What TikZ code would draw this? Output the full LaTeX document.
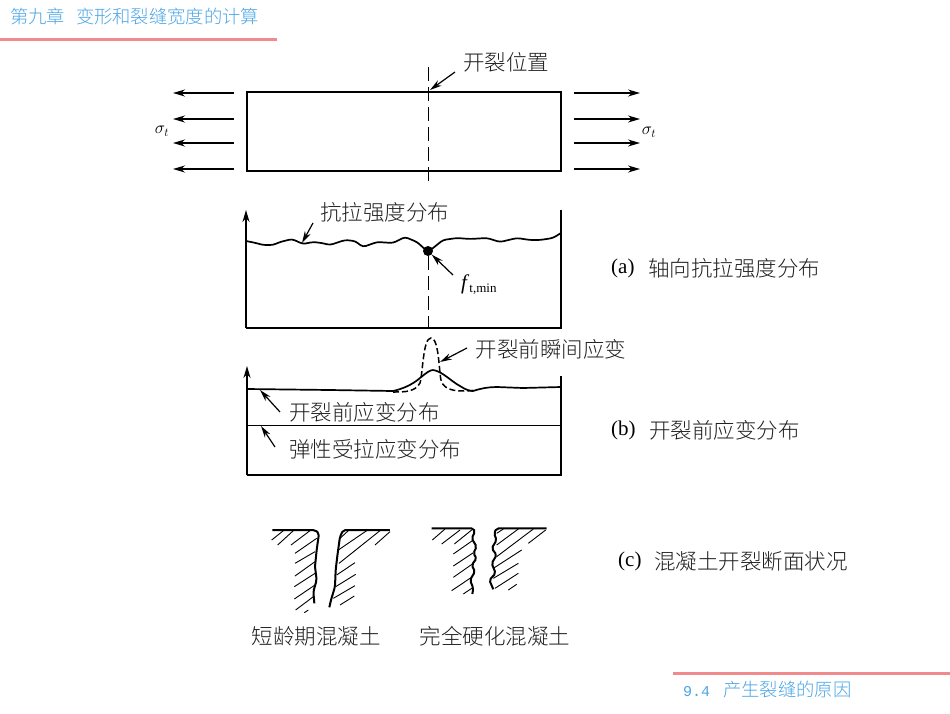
\documentclass[tikz,border=0pt]{standalone}
\usepackage{fontspec}
\setmainfont{Liberation Serif}
\newfontfamily\cjk{Noto Sans CJK SC}[UprightFont={* Light}]
\newfontfamily\monof{Liberation Mono}
\usetikzlibrary{arrows.meta}
\definecolor{headblue}{HTML}{4AA5E4}
\definecolor{headred}{HTML}{F08A8C}
\tikzset{
  lbl/.style={inner sep=0pt,font=\fontsize{21.5}{24}\selectfont\cjk,text=black!88},
  captext/.style={inner sep=0pt,font=\fontsize{21.5}{24}\selectfont\cjk,text=black!88,anchor=west},
  tagl/.style={inner sep=0pt,font=\fontsize{21}{24}\selectfont,anchor=west},
  headl/.style={inner sep=0pt,font=\fontsize{18.3}{20}\selectfont\cjk,text=headblue,anchor=west},
  redbar/.style={draw=headred,line width=3pt},
  beamline/.style={draw=black,line width=1.7pt},
  wavy/.style={draw=black,line width=1.7pt,line join=round,rounded corners=3pt},
  cen/.style={draw=black,line width=1pt,dash pattern=on 14pt off 6pt},
  force/.style={draw=black,line width=1.5pt,-{Stealth[length=12pt,width=7pt]}},
  leader/.style={draw=black,line width=1.2pt,-{Stealth[length=12pt,width=6.5pt]}},
  axisl/.style={draw=black,line width=1.7pt,-{Stealth[length=12pt,width=7pt]}},
  hatchl/.style={draw=black,line width=.9pt},
  crackl/.style={draw=black,line width=2pt,line join=round,rounded corners=2pt},
  sig/.style={inner sep=0pt,font=\fontsize{18}{20}\selectfont},
}
\begin{document}
\begin{tikzpicture}[x=1pt,y=-1pt]
\useasboundingbox (0,0) rectangle (950,713);
% header / footer
\node[headl] (title) at (10,17) {第九章\hspace{.6em}变形和裂缝宽度的计算};
\coordinate (ta) at (0,39); \coordinate (tb) at (277,39);
\draw[redbar] (ta) -- (tb);
\coordinate (fa) at (673,673); \coordinate (fb) at (950,673);
\draw[redbar] (fa) -- (fb);
\node[headl] (foot) at (683,690) {{\monof\fontsize{15}{18}\selectfont 9.4}\hspace{.72em}产生裂缝的原因};

% top beam
\node[draw=black,line width=1.7pt,minimum width=314pt,minimum height=79pt,inner sep=0pt] (beam) at (404,131.5) {};
\coordinate (ct) at (428,67); \coordinate (cb) at (428,182);
\draw[cen] (ct) -- (cb);
\node[lbl] (crackpos) at (506,62) {开裂位置};
\coordinate (cs) at (455,72); \coordinate (ce) at (430,90);
\draw[leader] (cs) -- (ce);
\foreach \y [count=\i] in {93,119,143,169}{
  \coordinate (la\i) at (234,\y); \coordinate (lb\i) at (173,\y);
  \draw[force] (la\i) -- (lb\i);
  \coordinate (ra\i) at (574,\y); \coordinate (rb\i) at (640,\y);
  \draw[force] (ra\i) -- (rb\i);
}
\node[sig] (sl) at (162,131) {$\sigma_t$};
\node[sig] (sr) at (649,132) {$\sigma_t$};

% (a)
\coordinate (a0) at (246,328); \coordinate (a1) at (246,210);
\coordinate (a2) at (561,328); \coordinate (a3) at (561,210);
\draw[axisl] (a0) -- (a1);
\draw[beamline] (a0) -- (a2) -- (a3);
\draw[wavy] (246,241) -- (256,243) -- (263,245) -- (273,245) -- (280,242) -- (292,239) -- (303,244) -- (313,242) -- (322,243) -- (330,245) -- (345,240) -- (355,241) -- (363,247) -- (377,242) -- (393,243) -- (405,237) -- (417,242) -- (428,252) -- (443,240) -- (457,238) -- (470,239) -- (487,238) -- (500,242) -- (517,238) -- (530,240) -- (540,240) -- (553,238) -- (561,233);
\node[circle,fill=black,inner sep=0pt,minimum size=10pt] (minpt) at (428,251) {};
\coordinate (dc) at (428,328);
\draw[cen] (minpt) -- (dc);
\node[lbl] (strength) at (384.5,212) {抗拉强度分布};
\coordinate (ss) at (313,223); \coordinate (se) at (302,243);
\draw[leader] (ss) -- (se);
\node[inner sep=0pt,font=\fontsize{21}{24}\selectfont,anchor=west] (fmin) at (461,285) {\textit{f}\raisebox{-3pt}{\fontsize{13}{14}\selectfont t,min}};
\coordinate (fs) at (453,275);
\draw[leader] (fs) -- (minpt);
\node[tagl] (taga) at (611,268) {(a)};
\node[captext] (capa) at (648,268) {轴向抗拉强度分布};

% (b)
\coordinate (b0) at (247,475); \coordinate (b1) at (247,366);
\coordinate (b2) at (561,475); \coordinate (b3) at (561,376);
\draw[axisl] (b0) -- (b1);
\draw[beamline] (b0) -- (b2) -- (b3);
\coordinate (m0) at (247,425.5); \coordinate (m1) at (561,425.5);
\draw[draw=black,line width=1.2pt] (m0) -- (m1);
\draw[draw=black,line width=1.7pt,line join=round] (247,389) -- (330,390) -- (393,391) .. controls (402,389) and (412,385) .. (420,378) .. controls (426,373) and (430,370) .. (433,370) .. controls (442,371) and (452,382) .. (460,386) .. controls (466,390) and (470,391) .. (473,391) .. controls (482,388) and (490,387) .. (497,387) -- (523,388) -- (561,387);
\draw[draw=black,line width=1.5pt,dash pattern=on 6pt off 3pt] (393,392) .. controls (405,392) and (415,392) .. (420,383) .. controls (423,372) and (423,338) .. (431,338) .. controls (439,338) and (439,372) .. (441,380) .. controls (444,392) and (460,392) .. (477,390);
\node[lbl] (instant) at (551,349) {开裂前瞬间应变};
\coordinate (is) at (467,348); \coordinate (ie) at (440,362);
\draw[leader] (is) -- (ie);
\node[lbl,anchor=west] (pre) at (289,412) {开裂前应变分布};
\coordinate (ps) at (280,412); \coordinate (pe) at (260,390);
\draw[leader] (ps) -- (pe);
\node[lbl,anchor=west] (ela) at (289,449) {弹性受拉应变分布};
\coordinate (es) at (275,447); \coordinate (ee) at (261,426);
\draw[leader] (es) -- (ee);
\node[tagl] (tagb) at (611,430) {(b)};
\node[captext] (capb) at (649,430) {开裂前应变分布};

% (c)
\begin{scope}[shift={(265,520)},x=.3333pt,y=-.3333pt]
\draw[crackl] (22,30) -- (150,30) -- (162,40) -- (155,90) -- (150,140) -- (155,180) -- (145,215) -- (148,250);
\draw[crackl] (375,30) -- (235,30) -- (225,50) -- (218,100) -- (212,150) -- (210,200) -- (198,240) -- (193,262);
\foreach \a/\b/\c/\d in {20/60/55/32,38/75/85/32,78/75/135/32,90/100/155/55,90/130/150/95,90/168/150/125,88/200/150/160,88/237/150/195,92/270/145/230,118/278/130/270,
  225/55/250/32,220/90/305/32,222/130/345/32,330/75/375/35,215/165/270/128,212/200/272/163,205/235/270/197,225/255/268/228}{
  \draw[hatchl] (\a,\b) -- (\c,\d);
}
\end{scope}
\begin{scope}[shift={(425,520)},x=.3333pt,y=-.3333pt]
\draw[crackl] (20,25) -- (145,25) -- (150,35) -- (140,55) -- (155,80) -- (145,100) -- (155,115) -- (140,135) -- (150,155) -- (135,180) -- (145,205) -- (142,222);
\draw[crackl] (365,25) -- (215,25) -- (207,40) -- (215,60) -- (200,85) -- (215,105) -- (200,130) -- (212,160) -- (193,180) -- (205,208);
\foreach \a/\b/\c/\d in {22/60/60/27,50/72/105/30,88/72/140/30,85/102/145/60,85/138/145/98,85/172/145/130,80/212/135/175,115/222/140/205,
  215/40/235/27,215/75/280/27,215/110/325/27,310/70/362/30,205/145/290/90,205/175/280/130,210/205/280/160,250/210/275/193}{
  \draw[hatchl] (\a,\b) -- (\c,\d);
}
\end{scope}
\node[lbl] (young) at (316,636) {短龄期混凝土};
\node[lbl] (old) at (495,636) {完全硬化混凝土};
\node[tagl] (tagc) at (618,561) {(c)};
\node[captext] (capc) at (654,561) {混凝土开裂断面状况};
\end{tikzpicture}
\end{document}
